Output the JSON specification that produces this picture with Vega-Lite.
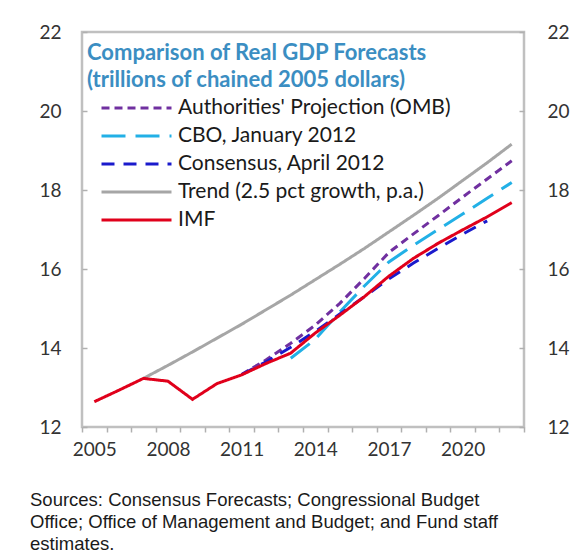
{
  "$schema": "https://vega.github.io/schema/vega-lite/v6.json",
  "autosize": {"type": "none"},
  "padding": {"left": 82, "top": 32, "right": 60, "bottom": 131},
  "width": 442,
  "height": 395,
  "background": "white",
  "title": {
    "text": ["Sources: Consensus Forecasts; Congressional Budget", "Office; Office of Management and Budget; and Fund staff", "estimates."],
    "orient": "bottom", "anchor": "start", "frame": "group", "dx": -52, "offset": 32,
    "font": "Liberation Sans", "fontSize": 18.5, "fontWeight": "normal", "color": "#1a1a1a", "lineHeight": 22
  },
  "data": {"values": [
    {"year": 2007, "series": "Trend (2.5 pct growth, p.a.)", "value": 13.23},
    {"year": 2008, "series": "Trend (2.5 pct growth, p.a.)", "value": 13.56},
    {"year": 2009, "series": "Trend (2.5 pct growth, p.a.)", "value": 13.90},
    {"year": 2010, "series": "Trend (2.5 pct growth, p.a.)", "value": 14.25},
    {"year": 2011, "series": "Trend (2.5 pct growth, p.a.)", "value": 14.60},
    {"year": 2012, "series": "Trend (2.5 pct growth, p.a.)", "value": 14.97},
    {"year": 2013, "series": "Trend (2.5 pct growth, p.a.)", "value": 15.34},
    {"year": 2014, "series": "Trend (2.5 pct growth, p.a.)", "value": 15.73},
    {"year": 2015, "series": "Trend (2.5 pct growth, p.a.)", "value": 16.12},
    {"year": 2016, "series": "Trend (2.5 pct growth, p.a.)", "value": 16.52},
    {"year": 2017, "series": "Trend (2.5 pct growth, p.a.)", "value": 16.94},
    {"year": 2018, "series": "Trend (2.5 pct growth, p.a.)", "value": 17.36},
    {"year": 2019, "series": "Trend (2.5 pct growth, p.a.)", "value": 17.79},
    {"year": 2020, "series": "Trend (2.5 pct growth, p.a.)", "value": 18.24},
    {"year": 2021, "series": "Trend (2.5 pct growth, p.a.)", "value": 18.69},
    {"year": 2022, "series": "Trend (2.5 pct growth, p.a.)", "value": 19.16},
    {"year": 2011, "series": "Authorities' Projection (OMB)", "value": 13.33},
    {"year": 2012, "series": "Authorities' Projection (OMB)", "value": 13.70},
    {"year": 2013, "series": "Authorities' Projection (OMB)", "value": 14.12},
    {"year": 2014, "series": "Authorities' Projection (OMB)", "value": 14.58},
    {"year": 2015, "series": "Authorities' Projection (OMB)", "value": 15.13},
    {"year": 2016, "series": "Authorities' Projection (OMB)", "value": 15.76},
    {"year": 2017, "series": "Authorities' Projection (OMB)", "value": 16.42},
    {"year": 2018, "series": "Authorities' Projection (OMB)", "value": 16.89},
    {"year": 2019, "series": "Authorities' Projection (OMB)", "value": 17.35},
    {"year": 2020, "series": "Authorities' Projection (OMB)", "value": 17.82},
    {"year": 2021, "series": "Authorities' Projection (OMB)", "value": 18.28},
    {"year": 2022, "series": "Authorities' Projection (OMB)", "value": 18.74},
    {"year": 2013, "series": "CBO, January 2012", "value": 13.74},
    {"year": 2014, "series": "CBO, January 2012", "value": 14.22},
    {"year": 2015, "series": "CBO, January 2012", "value": 14.91},
    {"year": 2016, "series": "CBO, January 2012", "value": 15.57},
    {"year": 2017, "series": "CBO, January 2012", "value": 16.18},
    {"year": 2018, "series": "CBO, January 2012", "value": 16.60},
    {"year": 2019, "series": "CBO, January 2012", "value": 17.00},
    {"year": 2020, "series": "CBO, January 2012", "value": 17.39},
    {"year": 2021, "series": "CBO, January 2012", "value": 17.79},
    {"year": 2022, "series": "CBO, January 2012", "value": 18.19},
    {"year": 2011, "series": "Consensus, April 2012", "value": 13.33},
    {"year": 2012, "series": "Consensus, April 2012", "value": 13.65},
    {"year": 2013, "series": "Consensus, April 2012", "value": 14.02},
    {"year": 2014, "series": "Consensus, April 2012", "value": 14.42},
    {"year": 2015, "series": "Consensus, April 2012", "value": 14.86},
    {"year": 2016, "series": "Consensus, April 2012", "value": 15.30},
    {"year": 2017, "series": "Consensus, April 2012", "value": 15.75},
    {"year": 2018, "series": "Consensus, April 2012", "value": 16.15},
    {"year": 2019, "series": "Consensus, April 2012", "value": 16.52},
    {"year": 2020, "series": "Consensus, April 2012", "value": 16.88},
    {"year": 2021, "series": "Consensus, April 2012", "value": 17.22},
    {"year": 2005, "series": "IMF", "value": 12.64},
    {"year": 2006, "series": "IMF", "value": 12.93},
    {"year": 2007, "series": "IMF", "value": 13.23},
    {"year": 2008, "series": "IMF", "value": 13.16},
    {"year": 2009, "series": "IMF", "value": 12.70},
    {"year": 2010, "series": "IMF", "value": 13.10},
    {"year": 2011, "series": "IMF", "value": 13.32},
    {"year": 2012, "series": "IMF", "value": 13.61},
    {"year": 2013, "series": "IMF", "value": 13.87},
    {"year": 2014, "series": "IMF", "value": 14.38},
    {"year": 2015, "series": "IMF", "value": 14.83},
    {"year": 2016, "series": "IMF", "value": 15.30},
    {"year": 2017, "series": "IMF", "value": 15.82},
    {"year": 2018, "series": "IMF", "value": 16.27},
    {"year": 2019, "series": "IMF", "value": 16.65},
    {"year": 2020, "series": "IMF", "value": 16.99},
    {"year": 2021, "series": "IMF", "value": 17.32},
    {"year": 2022, "series": "IMF", "value": 17.68}
  ]},
  "layer": [
    {
      "transform": [{"filter": {"field": "series", "oneOf": ["Trend (2.5 pct growth, p.a.)", "Authorities' Projection (OMB)", "CBO, January 2012"]}}],
      "mark": {"type": "line", "strokeWidth": 3},
      "encoding": {
        "x": {"field": "year", "type": "quantitative", "scale": {"domain": [2004.5, 2022.5], "nice": false, "zero": false},
          "axis": {"values": [2004.5, 2005.5, 2006.5, 2007.5, 2008.5, 2009.5, 2010.5, 2011.5, 2012.5, 2013.5, 2014.5, 2015.5, 2016.5, 2017.5, 2018.5, 2019.5, 2020.5, 2021.5, 2022.5],
            "labelExpr": "datum.value < 2022 && (datum.value - 2004.5) % 3 == 0 ? '' + (datum.value + 0.5) : ''",
            "labelOffset": 12.3, "tickSize": 5, "labelPadding": 8, "labelOverlap": false, "labelBound": false, "labelFlush": false, "title": null}},
        "y": {"field": "value", "type": "quantitative", "scale": {"domain": [12, 22], "nice": false, "zero": false},
          "axis": {"orient": "left", "values": [12, 14, 16, 18, 20, 22], "tickSize": -5, "labelPadding": 26, "title": null}},
        "color": {"field": "series", "type": "nominal",
          "scale": {"domain": ["Authorities' Projection (OMB)", "CBO, January 2012", "Consensus, April 2012", "Trend (2.5 pct growth, p.a.)", "IMF"],
                    "range": ["#7030a0", "#22b0e6", "#1a1acc", "#a6a6a6", "#e0001b"]},
          "legend": {"title": ["Comparison of Real GDP Forecasts", "(trillions of chained 2005 dollars)"]}},
        "strokeDash": {"field": "series", "type": "nominal",
          "scale": {"domain": ["Authorities' Projection (OMB)", "CBO, January 2012", "Consensus, April 2012", "Trend (2.5 pct growth, p.a.)", "IMF"],
                    "range": [[8, 5], [24, 10], [13, 9], [1, 0], [1, 0]]},
          "legend": {"title": ["Comparison of Real GDP Forecasts", "(trillions of chained 2005 dollars)"]}}
      }
    },
    {
      "transform": [{"filter": {"field": "series", "oneOf": ["Consensus, April 2012", "IMF"]}}],
      "mark": {"type": "line", "strokeWidth": 3},
      "encoding": {
        "x": {"field": "year", "type": "quantitative",
          "axis": {"values": [2004.5, 2005.5, 2006.5, 2007.5, 2008.5, 2009.5, 2010.5, 2011.5, 2012.5, 2013.5, 2014.5, 2015.5, 2016.5, 2017.5, 2018.5, 2019.5, 2020.5, 2021.5, 2022.5],
            "labelExpr": "datum.value < 2022 && (datum.value - 2004.5) % 3 == 0 ? '' + (datum.value + 0.5) : ''",
            "labelOffset": 12.3, "tickSize": 5, "labelPadding": 8, "labelOverlap": false, "labelBound": false, "labelFlush": false, "title": null}},
        "y": {"field": "value", "type": "quantitative", "scale": {"domain": [12, 22], "nice": false, "zero": false},
          "axis": {"orient": "right", "values": [12, 14, 16, 18, 20, 22], "tickSize": -5, "labelPadding": 28, "title": null}},
        "color": {"field": "series", "type": "nominal",
          "legend": {"title": ["Comparison of Real GDP Forecasts", "(trillions of chained 2005 dollars)"]}},
        "strokeDash": {"field": "series", "type": "nominal",
          "legend": {"title": ["Comparison of Real GDP Forecasts", "(trillions of chained 2005 dollars)"]}}
      }
    }
  ],
  "resolve": {"axis": {"y": "independent"}},
  "config": {
    "view": {"stroke": "#c0c0c0", "strokeWidth": 2.5},
    "axis": {"labelFont": "Lato", "labelFontSize": 19, "labelColor": "#333333", "domain": false, "grid": false, "tickColor": "#b0b0b0", "tickWidth": 1.5, "labelOverlap": false},
    "axisX": {"labelOverlap": false, "labelSeparation": 0},
    "legend": {
      "orient": "none", "legendX": 5, "legendY": 11, "padding": 0,
      "titleFont": "Lato", "titleFontSize": 22, "titleFontWeight": "bold", "titleColor": "#3b8ec2", "titleLineHeight": 27, "titleLimit": 0, "titlePadding": 7,
      "symbolType": "stroke", "symbolSize": 4900, "symbolStrokeWidth": 3, "clipHeight": 18, "symbolOffset": 13,
      "labelOffset": 5, "labelFont": "Lato", "labelFontSize": 21, "labelColor": "#1a1a1a", "labelLimit": 0, "rowPadding": 7
    }
  }
}
